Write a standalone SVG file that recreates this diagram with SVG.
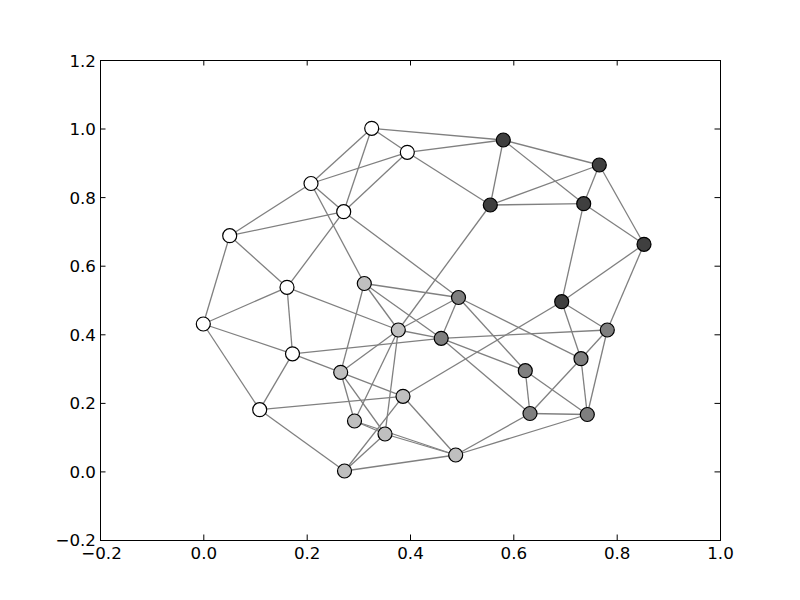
<svg xmlns="http://www.w3.org/2000/svg" width="800" height="600" viewBox="0 0 800 600">
<style>
.e{stroke:#808080;stroke-width:1.3;fill:none}
.n{stroke:#000;stroke-width:1.2}
.w{fill:#ffffff}.l{fill:#bfbfbf}.m{fill:#7f7f7f}.d{fill:#3f3f3f}
.t{stroke:#000;stroke-width:1}
.lab{font-family:"DejaVu Sans",sans-serif;font-size:16.7px;fill:#000}
</style>
<rect x="0" y="0" width="800" height="600" fill="#fff"/>
<g id="connectors">
<line class="e" x1="371.7" y1="128.3" x2="407.3" y2="152.3"/>
<line class="e" x1="371.7" y1="128.3" x2="503.3" y2="140"/>
<line class="e" x1="371.7" y1="128.3" x2="311" y2="183.5"/>
<line class="e" x1="371.7" y1="128.3" x2="343.7" y2="211.7"/>
<line class="e" x1="407.3" y1="152.3" x2="311" y2="183.5"/>
<line class="e" x1="407.3" y1="152.3" x2="343.7" y2="211.7"/>
<line class="e" x1="407.3" y1="152.3" x2="503.3" y2="140"/>
<line class="e" x1="407.3" y1="152.3" x2="490.3" y2="205"/>
<line class="e" x1="311" y1="183.5" x2="229.7" y2="235.7"/>
<line class="e" x1="311" y1="183.5" x2="343.7" y2="211.7"/>
<line class="e" x1="311" y1="183.5" x2="364.3" y2="283.5"/>
<line class="e" x1="343.7" y1="211.7" x2="229.7" y2="235.7"/>
<line class="e" x1="343.7" y1="211.7" x2="287" y2="287.3"/>
<line class="e" x1="343.7" y1="211.7" x2="458.5" y2="297.5"/>
<line class="e" x1="229.7" y1="235.7" x2="203.3" y2="324"/>
<line class="e" x1="229.7" y1="235.7" x2="287" y2="287.3"/>
<line class="e" x1="287" y1="287.3" x2="203.3" y2="324"/>
<line class="e" x1="287" y1="287.3" x2="292.5" y2="353.8"/>
<line class="e" x1="287" y1="287.3" x2="398.3" y2="330"/>
<line class="e" x1="203.3" y1="324" x2="292.5" y2="353.8"/>
<line class="e" x1="203.3" y1="324" x2="259.7" y2="409.7"/>
<line class="e" x1="292.5" y1="353.8" x2="259.7" y2="409.7"/>
<line class="e" x1="292.5" y1="353.8" x2="441.2" y2="338.3"/>
<line class="e" x1="292.5" y1="353.8" x2="340.7" y2="372.3"/>
<line class="e" x1="259.7" y1="409.7" x2="403" y2="396.3"/>
<line class="e" x1="259.7" y1="409.7" x2="344.5" y2="471"/>
<line class="e" x1="503.3" y1="140" x2="599.3" y2="165"/>
<line class="e" x1="503.3" y1="140" x2="490.3" y2="205"/>
<line class="e" x1="503.3" y1="140" x2="583.7" y2="203.7"/>
<line class="e" x1="599.3" y1="165" x2="490.3" y2="205"/>
<line class="e" x1="599.3" y1="165" x2="583.7" y2="203.7"/>
<line class="e" x1="599.3" y1="165" x2="644" y2="244.3"/>
<line class="e" x1="490.3" y1="205" x2="583.7" y2="203.7"/>
<line class="e" x1="490.3" y1="205" x2="398.3" y2="330"/>
<line class="e" x1="583.7" y1="203.7" x2="644" y2="244.3"/>
<line class="e" x1="583.7" y1="203.7" x2="561.7" y2="301.7"/>
<line class="e" x1="644" y1="244.3" x2="561.7" y2="301.7"/>
<line class="e" x1="644" y1="244.3" x2="607.3" y2="330"/>
<line class="e" x1="561.7" y1="301.7" x2="607.3" y2="330"/>
<line class="e" x1="561.7" y1="301.7" x2="581" y2="358.7"/>
<line class="e" x1="561.7" y1="301.7" x2="403" y2="396.3"/>
<line class="e" x1="581" y1="358.7" x2="607.3" y2="330"/>
<line class="e" x1="581" y1="358.7" x2="587.3" y2="414.5"/>
<line class="e" x1="581" y1="358.7" x2="530" y2="413.5"/>
<line class="e" x1="581" y1="358.7" x2="458.5" y2="297.5"/>
<line class="e" x1="525.3" y1="370.7" x2="458.5" y2="297.5"/>
<line class="e" x1="525.3" y1="370.7" x2="441.2" y2="338.3"/>
<line class="e" x1="525.3" y1="370.7" x2="530" y2="413.5"/>
<line class="e" x1="525.3" y1="370.7" x2="587.3" y2="414.5"/>
<line class="e" x1="607.3" y1="330" x2="587.3" y2="414.5"/>
<line class="e" x1="607.3" y1="330" x2="441.2" y2="338.3"/>
<line class="e" x1="530" y1="413.5" x2="441.2" y2="338.3"/>
<line class="e" x1="530" y1="413.5" x2="587.3" y2="414.5"/>
<line class="e" x1="530" y1="413.5" x2="455.7" y2="455"/>
<line class="e" x1="587.3" y1="414.5" x2="455.7" y2="455"/>
<line class="e" x1="364.3" y1="283.5" x2="458.5" y2="297.5"/>
<line class="e" x1="364.3" y1="283.5" x2="398.3" y2="330"/>
<line class="e" x1="364.3" y1="283.5" x2="441.2" y2="338.3"/>
<line class="e" x1="364.3" y1="283.5" x2="340.7" y2="372.3"/>
<line class="e" x1="398.3" y1="330" x2="458.5" y2="297.5"/>
<line class="e" x1="398.3" y1="330" x2="441.2" y2="338.3"/>
<line class="e" x1="398.3" y1="330" x2="340.7" y2="372.3"/>
<line class="e" x1="398.3" y1="330" x2="354.5" y2="421"/>
<line class="e" x1="398.3" y1="330" x2="385" y2="434"/>
<line class="e" x1="458.5" y1="297.5" x2="441.2" y2="338.3"/>
<line class="e" x1="340.7" y1="372.3" x2="403" y2="396.3"/>
<line class="e" x1="340.7" y1="372.3" x2="354.5" y2="421"/>
<line class="e" x1="340.7" y1="372.3" x2="385" y2="434"/>
<line class="e" x1="403" y1="396.3" x2="455.7" y2="455"/>
<line class="e" x1="403" y1="396.3" x2="344.5" y2="471"/>
<line class="e" x1="354.5" y1="421" x2="385" y2="434"/>
<line class="e" x1="354.5" y1="421" x2="455.7" y2="455"/>
<line class="e" x1="385" y1="434" x2="455.7" y2="455"/>
<line class="e" x1="385" y1="434" x2="344.5" y2="471"/>
<line class="e" x1="455.7" y1="455" x2="344.5" y2="471"/>
</g>
<g id="nA"><circle class="n w" cx="371.7" cy="128.3" r="7"/></g>
<g id="nB"><circle class="n w" cx="407.3" cy="152.3" r="7"/></g>
<g id="nC"><circle class="n w" cx="311" cy="183.5" r="7"/></g>
<g id="nD"><circle class="n w" cx="343.7" cy="211.7" r="7"/></g>
<g id="nE"><circle class="n w" cx="229.7" cy="235.7" r="7"/></g>
<g id="nF"><circle class="n w" cx="287" cy="287.3" r="7"/></g>
<g id="nG"><circle class="n w" cx="203.3" cy="324" r="7"/></g>
<g id="nH"><circle class="n w" cx="292.5" cy="353.8" r="7"/></g>
<g id="nI"><circle class="n w" cx="259.7" cy="409.7" r="7"/></g>
<g id="nJ"><circle class="n d" cx="503.3" cy="140" r="7"/></g>
<g id="nK"><circle class="n d" cx="599.3" cy="165" r="7"/></g>
<g id="nL"><circle class="n d" cx="490.3" cy="205" r="7"/></g>
<g id="nM"><circle class="n d" cx="583.7" cy="203.7" r="7"/></g>
<g id="nN"><circle class="n d" cx="644" cy="244.3" r="7"/></g>
<g id="nO"><circle class="n d" cx="561.7" cy="301.7" r="7"/></g>
<g id="nP"><circle class="n m" cx="458.5" cy="297.5" r="7"/></g>
<g id="nQ"><circle class="n m" cx="441.2" cy="338.3" r="7"/></g>
<g id="nR"><circle class="n m" cx="607.3" cy="330" r="7"/></g>
<g id="nS"><circle class="n m" cx="581" cy="358.7" r="7"/></g>
<g id="nT"><circle class="n m" cx="525.3" cy="370.7" r="7"/></g>
<g id="nU"><circle class="n m" cx="530" cy="413.5" r="7"/></g>
<g id="nV"><circle class="n m" cx="587.3" cy="414.5" r="7"/></g>
<g id="nW"><circle class="n l" cx="364.3" cy="283.5" r="7"/></g>
<g id="nX"><circle class="n l" cx="398.3" cy="330" r="7"/></g>
<g id="nY"><circle class="n l" cx="340.7" cy="372.3" r="7"/></g>
<g id="nZ"><circle class="n l" cx="403" cy="396.3" r="7"/></g>
<g id="nAA"><circle class="n l" cx="354.5" cy="421" r="7"/></g>
<g id="nAB"><circle class="n l" cx="385" cy="434" r="7"/></g>
<g id="nAC"><circle class="n l" cx="455.7" cy="455" r="7"/></g>
<g id="nAD"><circle class="n l" cx="344.5" cy="471" r="7"/></g>
<g id="axes">
<rect x="100.5" y="60.5" width="620" height="480" fill="none" stroke="#000" stroke-width="1"/>
<path class="t" d="M100.5,540v-5.5M100.5,60v5.5M203.8,540v-5.5M203.8,60v5.5M307.2,540v-5.5M307.2,60v5.5M410.5,540v-5.5M410.5,60v5.5M513.8,540v-5.5M513.8,60v5.5M617.2,540v-5.5M617.2,60v5.5M720.5,540v-5.5M720.5,60v5.5"/>
<path class="t" d="M100,60.5h5.5M720,60.5h-5.5M100,129h5.5M720,129h-5.5M100,197.6h5.5M720,197.6h-5.5M100,266.2h5.5M720,266.2h-5.5M100,334.8h5.5M720,334.8h-5.5M100,403.4h5.5M720,403.4h-5.5M100,471.9h5.5M720,471.9h-5.5M100,540.5h5.5M720,540.5h-5.5"/>
<g class="lab" text-anchor="middle">
<text x="101.5" y="558.5">−0.2</text>
<text x="203.8" y="558.5">0.0</text>
<text x="307.2" y="558.5">0.2</text>
<text x="410.5" y="558.5">0.4</text>
<text x="513.8" y="558.5">0.6</text>
<text x="617.2" y="558.5">0.8</text>
<text x="720.5" y="558.5">1.0</text>
</g>
<g class="lab" text-anchor="end">
<text x="96" y="66.5">1.2</text>
<text x="96" y="135">1.0</text>
<text x="96" y="203.6">0.8</text>
<text x="96" y="272.2">0.6</text>
<text x="96" y="340.8">0.4</text>
<text x="96" y="409.4">0.2</text>
<text x="96" y="477.9">0.0</text>
<text x="96" y="545.5">−0.2</text>
</g>
</g>
</svg>
